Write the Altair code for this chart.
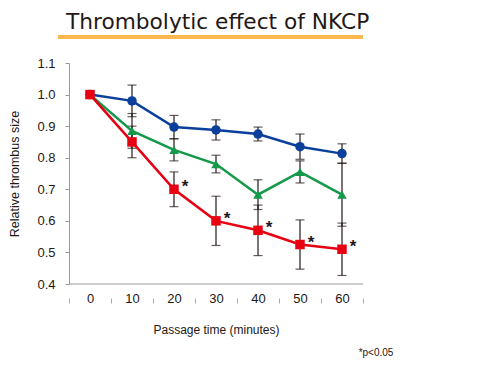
import altair as alt
import pandas as pd

times = ["0", "10", "20", "30", "40", "50", "60"]
series = ["Control feed", "MF+0.2%NKCP", "MF+1%NKCP"]
control = [1.0, 0.98, 0.897, 0.888, 0.875, 0.835, 0.813]
control_err = [0.0, 0.05, 0.037, 0.032, 0.022, 0.04, 0.031]
mf02 = [1.0, 0.885, 0.825, 0.78, 0.683, 0.755, 0.683]
mf02_err = [0.0, 0.055, 0.035, 0.028, 0.047, 0.035, 0.1]
mf1 = [1.0, 0.85, 0.70, 0.60, 0.57, 0.525, 0.51]
mf1_err = [0.0, 0.05, 0.055, 0.078, 0.08, 0.078, 0.083]
signif = [False, False, True, True, True, True, True]
colors = ["#0a3f9c", "#14994a", "#e60012"]
shapes = ["circle", "triangle-up", "square"]

title_text = "Thrombolytic effect of NKCP"
x_title = "Passage time (minutes)"
y_title = "Relative thrombus size"
note_text = "*p<0.05"

rows = []
for name, vals, errs in zip(series, [control, mf02, mf1], [control_err, mf02_err, mf1_err]):
    for i, t in enumerate(times):
        rows.append({"time": t, "series": name, "value": vals[i],
                     "lo": vals[i] - errs[i], "hi": vals[i] + errs[i],
                     "star": "*" if (name == series[2] and signif[i]) else ""})
df = pd.DataFrame(rows)
err_df = df[df["hi"] > df["lo"]]
star_df = df[df["star"] != ""]

FONT = "Liberation Sans"
W, H = 294, 221
TXT = "#231815"

xaxis = alt.Axis(title=x_title, domain=False, tickBand="extent", tickColor="#aaaaaa",
                 tickSize=5, offset=14, labelPadding=-11, labelFontSize=13,
                 labelColor=TXT, labelFont=FONT, labelAngle=0,
                 titleFont=FONT, titleFontSize=12, titleFontWeight="normal",
                 titleColor=TXT, titlePadding=19)
xenc = alt.X("time:O", sort=times,
             scale=alt.Scale(type="band", paddingInner=0, paddingOuter=0), axis=xaxis)
yscale = alt.Scale(domain=[0.4, 1.1], nice=False, zero=False)
yaxis = alt.Axis(title=y_title, values=[0.4, 0.5, 0.6, 0.7, 0.8, 0.9, 1.0, 1.1],
                 format=".1f", grid=False, domainColor="#999999", tickColor="#999999",
                 tickSize=4, labelPadding=10, labelFontSize=13, labelColor=TXT,
                 labelOverlap=False, labelBound=False,
                 labelFont=FONT, titleFont=FONT, titleFontSize=12.5,
                 titleFontWeight="normal", titleColor=TXT, titlePadding=15)


def Y(field):
    return alt.Y(field, scale=yscale, axis=yaxis)


base = alt.Chart(df)

xaxis_line = alt.Chart(pd.DataFrame({"v": [0.4]})).mark_rule(color="#999999", strokeWidth=1).encode(
    y=Y("v:Q"))

err_rule = alt.Chart(err_df).mark_rule(color=TXT, strokeWidth=1.2).encode(
    x=xenc, y=Y("lo:Q"), y2="hi:Q")
cap_lo = alt.Chart(err_df).mark_tick(color=TXT, thickness=1.2, size=9).encode(
    x=xenc, y=Y("lo:Q"))
cap_hi = alt.Chart(err_df).mark_tick(color=TXT, thickness=1.2, size=9).encode(
    x=xenc, y=Y("hi:Q"))

lines = base.mark_line(strokeWidth=2.5).encode(
    x=xenc, y=Y("value:Q"),
    color=alt.Color("series:N", scale=alt.Scale(domain=series, range=colors), legend=None))
leg_pts = alt.Legend(title=None, orient="none", legendX=299, legendY=-6, padding=0,
                     symbolSize=90, symbolStrokeWidth=0, labelFontSize=13, labelFont=FONT,
                     labelColor="#000000", labelOffset=13, rowPadding=6)
points = base.mark_point(filled=True, size=90, opacity=1).encode(
    x=xenc, y=Y("value:Q"),
    fill=alt.Fill("series:N", scale=alt.Scale(domain=series, range=colors), legend=leg_pts),
    shape=alt.Shape("series:N", scale=alt.Scale(domain=series, range=shapes), legend=leg_pts))

stars = alt.Chart(star_df).mark_text(fontSize=17, fontWeight="bold", color=TXT,
                                     dx=11, dy=-2, font=FONT).encode(
    x=xenc, y=Y("value:Q"), text="star:N")

title_mark = alt.Chart(pd.DataFrame({"t": [title_text]})).mark_text(
    align="left", baseline="alphabetic", fontSize=21.7, font="DejaVu Sans", color=TXT).encode(
    x=alt.value(-3), y=alt.value(-34), text="t:N")
underline = alt.Chart(pd.DataFrame({"t": [title_text]})).mark_rule(
    color="#f9b94e", strokeWidth=4).encode(
    x=alt.value(-11), x2=alt.value(294), y=alt.value(-26))
note = alt.Chart(pd.DataFrame({"t": [note_text]})).mark_text(
    align="center", baseline="middle", fontSize=10, font=FONT, color=TXT).encode(
    x=alt.value(307), y=alt.value(290), text="t:N")

chart = alt.layer(xaxis_line, err_rule, cap_lo, cap_hi, lines, points, stars,
                  title_mark, underline, note).properties(
    width=W, height=H, autosize="none",
    padding={"left": 61, "top": 55, "right": 130, "bottom": 75},
).configure_view(stroke=None)

chart.save("out.html", embed_options={"renderer": "svg", "actions": False})
